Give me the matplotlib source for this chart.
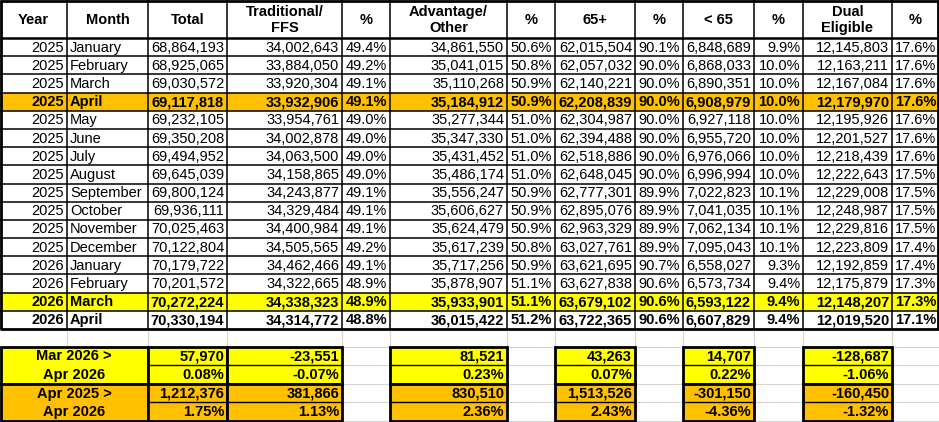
import matplotlib
matplotlib.use('Agg')
import matplotlib.pyplot as plt
from matplotlib.patches import Rectangle

plt.rcParams['font.family'] = ['Liberation Sans', 'DejaVu Sans']

# ── Data ──────────────────────────────────────────────────────────────────────
headers = ['Year', 'Month', 'Total', 'Traditional/\nFFS', '%', 'Advantage/\nOther', '%',
           '65+', '%', '< 65', '%', 'Dual\nEligible', '%']
years = [2025] * 12 + [2026] * 4
months = ['January', 'February', 'March', 'April', 'May', 'June', 'July', 'August',
          'September', 'October', 'November', 'December',
          'January', 'February', 'March', 'April']
total = [68864193, 68925065, 69030572, 69117818, 69232105, 69350208, 69494952, 69645039,
         69800124, 69936111, 70025463, 70122804, 70179722, 70201572, 70272224, 70330194]
trad = [34002643, 33884050, 33920304, 33932906, 33954761, 34002878, 34063500, 34158865,
        34243877, 34329484, 34400984, 34505565, 34462466, 34322665, 34338323, 34314772]
trad_pct = [49.4, 49.2, 49.1, 49.1, 49.0, 49.0, 49.0, 49.0, 49.1, 49.1, 49.1, 49.2,
            49.1, 48.9, 48.9, 48.8]
adv = [34861550, 35041015, 35110268, 35184912, 35277344, 35347330, 35431452, 35486174,
       35556247, 35606627, 35624479, 35617239, 35717256, 35878907, 35933901, 36015422]
adv_pct = [50.6, 50.8, 50.9, 50.9, 51.0, 51.0, 51.0, 51.0, 50.9, 50.9, 50.9, 50.8,
           50.9, 51.1, 51.1, 51.2]
age65 = [62015504, 62057032, 62140221, 62208839, 62304987, 62394488, 62518886, 62648045,
         62777301, 62895076, 62963329, 63027761, 63621695, 63627838, 63679102, 63722365]
age65_pct = [90.1, 90.0, 90.0, 90.0, 90.0, 90.0, 90.0, 90.0, 89.9, 89.9, 89.9, 89.9,
             90.7, 90.6, 90.6, 90.6]
under65 = [6848689, 6868033, 6890351, 6908979, 6927118, 6955720, 6976066, 6996994,
           7022823, 7041035, 7062134, 7095043, 6558027, 6573734, 6593122, 6607829]
under65_pct = [9.9, 10.0, 10.0, 10.0, 10.0, 10.0, 10.0, 10.0, 10.1, 10.1, 10.1, 10.1,
               9.3, 9.4, 9.4, 9.4]
dual = [12145803, 12163211, 12167084, 12179970, 12195926, 12201527, 12218439, 12222643,
        12229008, 12248987, 12229816, 12223809, 12192859, 12175879, 12148207, 12019520]
dual_pct = [17.6, 17.6, 17.6, 17.6, 17.6, 17.6, 17.6, 17.5, 17.5, 17.5, 17.5, 17.4,
            17.4, 17.3, 17.3, 17.1]

# month-over-month and year-over-year changes (Total, Trad, Adv, 65+, <65, Dual)
mar_labels = ['Mar 2026 >', 'Apr 2026']
mar_change = [57970, -23551, 81521, 43263, 14707, -128687]
mar_pct = [0.08, -0.07, 0.23, 0.07, 0.22, -1.06]
apr_labels = ['Apr 2025 >', 'Apr 2026']
apr_change = [1212376, 381866, 830510, 1513526, -301150, -160450]
apr_pct = [1.75, 1.13, 2.36, 2.43, -4.36, -1.32]

# ── Layout (pixels) ───────────────────────────────────────────────────────────
W, H = 939, 422
ORANGE = '#FFC000'
YELLOW = '#FFFF00'
GRID = '#D4D4D4'
col_x = [0, 67, 148, 227, 342, 390, 507, 555, 635, 683, 754, 803, 892, 939]
head_h = 38
row_h = (329 - head_h) / 16
row_fill = {3: ORANGE, 14: YELLOW}
bold_rows = {3, 14, 15}

fig = plt.figure(figsize=(W / 100, H / 100), dpi=100)
ax = fig.add_axes([0, 0, 1, 1])
ax.set_xlim(0, W)
ax.set_ylim(H, 0)
ax.axis('off')

FS = 10.5
PAD = 3


def hline(y, x0, x1, lw=1.1, color='black', z=3):
    ax.plot([x0, x1], [y, y], color=color, lw=lw, solid_capstyle='butt', zorder=z)


def vline(x, y0, y1, lw=1.1, color='black', z=3):
    ax.plot([x, x], [y0, y1], color=color, lw=lw, solid_capstyle='butt', zorder=z)


# header
for i, h in enumerate(headers):
    xc = (col_x[i] + col_x[i + 1]) / 2
    ax.text(xc, head_h / 2 + 1, h, ha='center', va='center', fontsize=FS,
            fontweight='bold', linespacing=1.15)

# data rows
cols = [total, trad, trad_pct, adv, adv_pct, age65, age65_pct,
        under65, under65_pct, dual, dual_pct]
for r in range(16):
    y0 = head_h + r * row_h
    yc = y0 + row_h / 2 + 0.5
    if r in row_fill:
        ax.add_patch(Rectangle((0, y0), W, row_h, facecolor=row_fill[r],
                               edgecolor='none', zorder=1))
    fw = 'bold' if r in bold_rows else 'normal'
    ax.text(col_x[1] - PAD, yc, str(years[r]), ha='right', va='center',
            fontsize=FS, fontweight=fw)
    ax.text(col_x[1] + PAD, yc, months[r], ha='left', va='center',
            fontsize=FS, fontweight=fw)
    for c, series in enumerate(cols):
        v = series[r]
        txt = f'{v:.1f}%' if (c > 0 and c % 2 == 0) else f'{v:,}'
        ax.text(col_x[c + 3] - PAD, yc, txt, ha='right', va='center',
                fontsize=FS, fontweight=fw)

# main table lines
table_bot = head_h + 16 * row_h
for r in range(1, 16):
    hline(head_h + r * row_h, 0, W)
hline(head_h, 0, W, lw=1.8)
for x in col_x[1:-1]:
    vline(x, 0, table_bot)
hline(0.8, 0, W, lw=2)
hline(table_bot, 0, W, lw=2)
vline(0.8, 0, table_bot, lw=2)
vline(W - 1, 0, table_bot, lw=2)

# ── Change summary blocks ─────────────────────────────────────────────────────
blk_top = 346.5
sub_h = (421 - blk_top) / 4

# spreadsheet gridlines in the empty cells
for x in col_x[1:-1]:
    vline(x, table_bot + 1, H, lw=0.8, color=GRID, z=0.5)
for k in range(5):
    hline(blk_top + k * sub_h, 0, W, lw=0.8, color=GRID, z=0.5)

val_cols = [2, 3, 5, 7, 9, 11]   # column index of Total, Trad, Adv, 65+, <65, Dual


def block(top, color, labels, changes, pcts):
    # label cell spanning Year + Month
    ax.add_patch(Rectangle((0.8, top), col_x[2] - 0.8, 2 * sub_h, facecolor=color,
                           edgecolor='black', lw=2, zorder=2))
    for k, lab in enumerate(labels):
        ax.text(col_x[2] / 2, top + (k + 0.5) * sub_h + 0.5, lab, ha='center',
                va='center', fontsize=FS, fontweight='bold', zorder=4)
    for ci, chg, pct in zip(val_cols, changes, pcts):
        x0, x1 = col_x[ci], col_x[ci + 1]
        ax.add_patch(Rectangle((x0, top), x1 - x0, 2 * sub_h, facecolor=color,
                               edgecolor='black', lw=2, zorder=2))
        hline(top + sub_h, x0, x1, lw=1.0)
        ax.text(x1 - PAD, top + 0.5 * sub_h + 0.5, f'{chg:,}', ha='right',
                va='center', fontsize=FS, fontweight='bold', zorder=4)
        ax.text(x1 - PAD, top + 1.5 * sub_h + 0.5, f'{pct:.2f}%', ha='right',
                va='center', fontsize=FS, fontweight='bold', zorder=4)


block(blk_top, YELLOW, mar_labels, mar_change, mar_pct)
block(blk_top + 2 * sub_h, ORANGE, apr_labels, apr_change, apr_pct)

fig.savefig('out.png', dpi=100)
